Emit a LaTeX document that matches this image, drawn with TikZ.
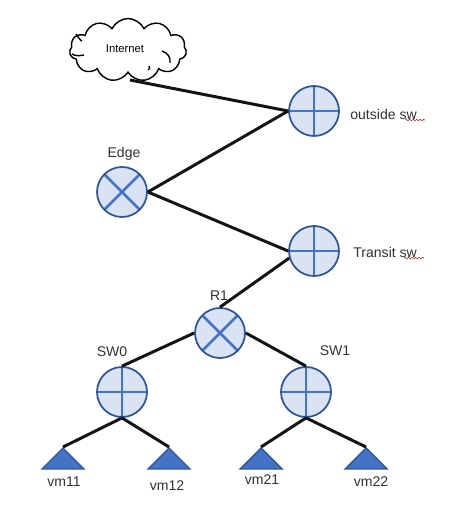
\documentclass[tikz,border=0pt]{standalone}
\usepackage{fontspec}
\setmainfont{Liberation Sans}
\usetikzlibrary{shapes.geometric,shapes.symbols,decorations.pathmorphing}
\definecolor{swfill}{RGB}{218,227,243}
\definecolor{swline}{RGB}{47,85,151}
\definecolor{swmark}{RGB}{68,114,196}
\definecolor{labelgray}{RGB}{50,50,50}
\tikzset{
    swnode/.style={circle, draw=swline, fill=swfill, line width=1pt, minimum size=1cm, inner sep=0pt},
    plus/.style={swnode, path picture={
        \draw[swmark, line width=1.6pt] (path picture bounding box.north) -- (path picture bounding box.south);
        \draw[swmark, line width=1.6pt] (path picture bounding box.west) -- (path picture bounding box.east);}},
    times/.style={swnode, path picture={
        \draw[swmark, line width=1.6pt] (path picture bounding box.north west) -- (path picture bounding box.south east);
        \draw[swmark, line width=1.6pt] (path picture bounding box.north east) -- (path picture bounding box.south west);}},
    vmnode/.style={isosceles triangle, isosceles triangle apex angle=90, shape border rotate=90,
        isosceles triangle stretches, draw=swline, fill=swmark, line width=0.8pt,
        minimum width=0.84cm, minimum height=0.42cm, inner sep=0pt, anchor=apex},
    wire/.style={line width=1.7pt, black!92},
    curl/.style={line width=0.8pt, black},
    lbl/.style={font=\fontsize{8}{10}\selectfont, text=labelgray, inner sep=0pt},
    squiggle/.style={red!80!black, line width=0.3pt, decorate, decoration={snake, amplitude=0.35pt, segment length=2pt}}
}
\begin{document}
\begin{tikzpicture}[x=0.02cm, y=-0.02cm]
    \useasboundingbox (0,0) rectangle (475,509);
    % cloud
    \node[cloud, draw, black, line width=0.8pt, cloud puffs=11, cloud puff arc=130, aspect=1.9,
        minimum width=2.34cm, minimum height=1.26cm, inner sep=0pt] (internet) at (128,50) {};
    \node[lbl, black, font=\fontsize{6.4}{8}\selectfont] (internetlabel) at (125,49) {Internet};
    \draw[curl] (162,51) .. controls (168,53) and (171,58) .. (170,63);
    \draw[curl] (72,54) .. controls (75,56) and (79,56) .. (84,55);
    \draw[curl] (76,34) .. controls (78,37) and (80,40) .. (82,41);
    \draw[curl] (148,70) .. controls (150,69) and (150,68) .. (149,66);
    % switches and routers
    \node[plus] (outside) at (314,111) {};
    \node[times] (edge) at (122,192) {};
    \node[plus] (transit) at (314,251) {};
    \node[times] (rone) at (220,333) {};
    \node[plus] (swzero) at (122,392) {};
    \node[plus] (swone) at (306,392) {};
    % vms
    \node[vmnode] (vmoneone) at (63,447) {};
    \node[vmnode] (vmonetwo) at (169,447) {};
    \node[vmnode] (vmtwoone) at (261,447) {};
    \node[vmnode] (vmtwotwo) at (366,447) {};
    % links
    \coordinate (cloudfoot) at (130,80);
    \draw[wire] (cloudfoot) -- (outside.west);
    \draw[wire] (edge.east) -- (outside.west);
    \draw[wire] (edge.east) -- (transit.west);
    \draw[wire] (transit.196) -- (rone.north);
    \draw[wire] (rone.west) -- (swzero.north);
    \draw[wire] (rone.east) -- (swone.north);
    \draw[wire] (swzero.south) -- (vmoneone.apex);
    \draw[wire] (swzero.south) -- (vmonetwo.apex);
    \draw[wire] (swone.south) -- (vmtwoone.apex);
    \draw[wire] (swone.south) -- (vmtwotwo.apex);
    % labels
    \node[lbl, anchor=west] (outsidelabel) at (350,114) {outside sw};
    \node[lbl, anchor=west] (transitlabel) at (353,252) {Transit sw};
    \node[lbl] (edgelabel) at (124,154) {Edge};
    \node[lbl] (ronelabel) at (219,296) {R1};
    \node[lbl] (swzerolabel) at (112,352) {SW0};
    \node[lbl] (swonelabel) at (335,351) {SW1};
    \node[lbl] (vmoneonelabel) at (64,482) {vm11};
    \node[lbl] (vmonetwolabel) at (167,486) {vm12};
    \node[lbl] (vmtwoonelabel) at (262,480) {vm21};
    \node[lbl] (vmtwotwolabel) at (371,482) {vm22};
    \draw[squiggle] (405,120) -- (425,120);
    \draw[squiggle] (404,258) -- (424,258);
\end{tikzpicture}
\end{document}
